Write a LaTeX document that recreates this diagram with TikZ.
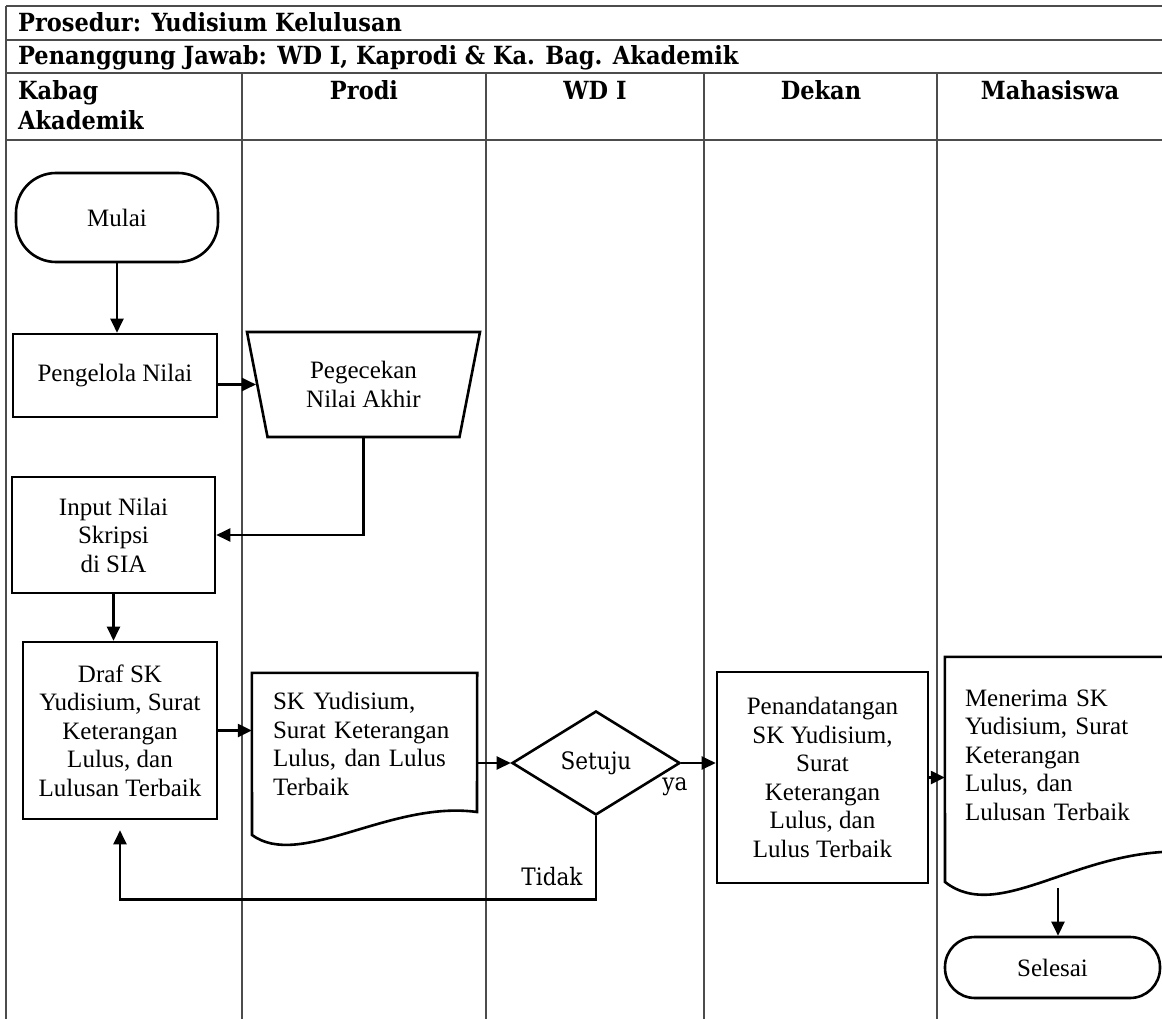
\documentclass[tikz,border=0pt]{standalone}
\usepackage{fontspec}
\setmainfont{Liberation Serif}
\newfontfamily\headfont{DejaVu Serif Condensed}
\usetikzlibrary{shapes.geometric,arrows.meta}

\begin{document}
\begin{tikzpicture}[x=1pt,y=-1pt,
    lane/.style={line width=1.3pt,black!70},
    head/.style={font=\headfont\bfseries\fontsize{25}{30}\selectfont,inner sep=0pt},
    box/.style={draw,line width=2.6pt,font=\fontsize{25}{28.5}\selectfont,align=center,inner sep=0pt},
    term/.style={box,rounded corners=40pt},
    doc/.style={font=\fontsize{25}{28.5}\selectfont,align=left,inner sep=0pt},
    outline/.style={line width=2.6pt},
    arr/.style={line width=2.4pt,-{Triangle[length=14pt,width=13pt]}},
    lbl/.style={font=\headfont\fontsize{24}{28}\selectfont,inner sep=0pt}]
    \useasboundingbox (0,0) rectangle (1162,1019);
    \clip (0,0) rectangle (1162,1019);
    \draw[lane] (6,6) -- (1170,6);
    \draw[lane] (6,40) -- (1170,40);
    \draw[lane] (6,73) -- (1170,73);
    \draw[lane] (6,140) -- (1170,140);
    \draw[lane] (6,6) -- (6,1025);
    \foreach \x in {242,486,704,937}
        \draw[lane] (\x,73) -- (\x,1025);
    \node[head,anchor=base west] (prosedur) at (18,32) {Prosedur: Yudisium Kelulusan};
    \node[head,anchor=base west] (pj) at (18,65) {Penanggung Jawab: WD I, Kaprodi \& Ka. Bag. Akademik};
    \node[head,anchor=base west,align=left] (kabag) at (18,130) {Kabag\\Akademik};
    \node[head,anchor=base] (prodi) at (364,100) {Prodi};
    \node[head,anchor=base] (wd) at (595,100) {WD I};
    \node[head,anchor=base] (dekan) at (821,100) {Dekan};
    \node[head,anchor=base] (mhs) at (1050,100) {Mahasiswa};

    \node[term,minimum width=202pt,minimum height=89pt] (mulai) at (117,217.5) {Mulai};
    \node[box,minimum width=204pt,minimum height=83pt] (kelola) at (115,375.5) {Pengelola Nilai};
    \node[box,trapezium,shape border rotate=180,trapezium left angle=66,trapezium right angle=66,trapezium stretches body,minimum width=233pt,minimum height=105pt] (cek) at (363.5,384.5) {Pegecekan\\Nilai Akhir};
    \node[box,minimum width=203pt,minimum height=116pt] (input) at (113.5,535) {Input Nilai\\Skripsi\\di SIA};
    \node[box,minimum width=194pt,minimum height=177pt] (draf) at (120,730.5) {Draf SK\\Yudisium, Surat\\Keterangan\\Lulus, dan\\Lulusan Terbaik};
    \node[doc,minimum width=225pt,minimum height=142pt,text width=183pt] (sk) at (364.5,744) {SK Yudisium,\\Surat Keterangan\\Lulus, dan Lulus\\Terbaik};
    \draw[outline] (sk.north west) -- (sk.north east) -- (477,812) .. controls (390,800) and (300,870) .. (252,835) -- cycle;
    \node[box,diamond,minimum width=168pt,minimum height=104pt,font=\headfont\fontsize{24}{28}\selectfont] (setuju) at (596,763) {Setuju};
    \node[box,minimum width=211pt,minimum height=211pt] (ttd) at (822.5,777.5) {Penandatangan\\SK Yudisium,\\Surat\\Keterangan\\Lulus, dan\\Lulus Terbaik};
    \node[doc,minimum width=245pt,minimum height=196pt,text width=205pt] (terima) at (1067.5,755) {Menerima SK\\Yudisium, Surat\\Keterangan\\Lulus, dan\\Lulusan Terbaik};
    \draw[outline] (terima.north east) -- (terima.north west) -- (945,882) .. controls (1000,925) and (1080,845) .. (1190,852) -- cycle;
    \node[term,rounded corners=30pt,minimum width=215pt,minimum height=61pt] (selesai) at (1052.5,967.5) {Selesai};
    \coordinate (turun) at (1058,888);
    \node[lbl] (ya) at (675,787) {ya};
    \node[lbl] (tidak) at (552,877) {Tidak};

    \draw[arr] (mulai.south) -- (mulai.south |- kelola.north);
    \draw[arr] (kelola.east |- cek.west) -- (cek.west);
    \draw[arr] (cek.south) |- (input.east);
    \draw[arr] (input.south) -- (input.south |- draf.north);
    \draw[arr] (draf.east) -- (draf.east -| sk.west);
    \draw[arr] (sk.east |- setuju.west) -- (setuju.west);
    \draw[arr] (setuju.east) -- (setuju.east -| ttd.west);
    \draw[arr] (ttd.east) -- (ttd.east -| terima.west);
    \draw[arr] (turun) -- (turun |- selesai.north);
    \draw[arr,shorten >=10pt] (setuju.south) -- ++(0,83) -| (draf.south);
\end{tikzpicture}
\end{document}
